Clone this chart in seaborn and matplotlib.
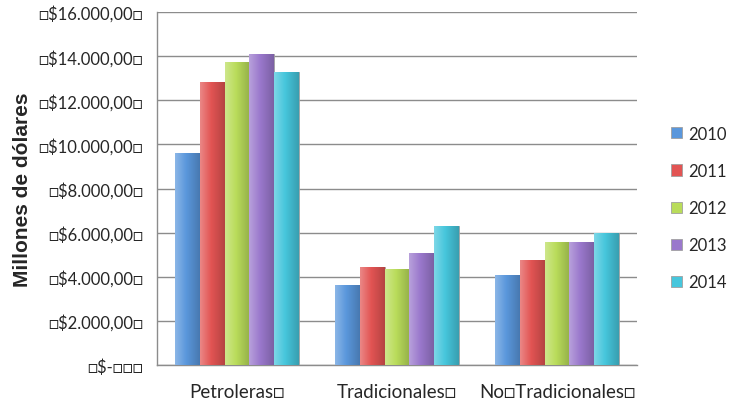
import matplotlib
matplotlib.use("Agg")
import matplotlib.pyplot as plt
import matplotlib.colors as mcolors
import numpy as np
import seaborn as sns
import pandas as pd

# values (millones de dólares)
CATEGORIES = ['Petroleras\u25a1', 'Tradicionales\u25a1', 'No\u25a1Tradicionales\u25a1']
YEARS = ['2010', '2011', '2012', '2013', '2014']
PETROLERAS = [9600, 12850, 13730, 14100, 13270]
TRADICIONALES = [3650, 4470, 4350, 5100, 6290]
NO_TRADICIONALES = [4090, 4770, 5560, 5560, 6010]
YTICKS = [0, 2000, 4000, 6000, 8000, 10000, 12000, 14000, 16000]
YTICK_LABELS = ['\u25a1$-\u25a1\u25a1\u25a1', '\u25a1$2.000,00\u25a1', '\u25a1$4.000,00\u25a1',
                '\u25a1$6.000,00\u25a1', '\u25a1$8.000,00\u25a1', '\u25a1$10.000,00\u25a1',
                '\u25a1$12.000,00\u25a1', '\u25a1$14.000,00\u25a1', '\u25a1$16.000,00\u25a1']
COLORS = ['#5a97dc', '#e25453', '#b9dc5a', '#9a78cc', '#46c6dc']

rows = []
for cat, vals in zip(CATEGORIES, [PETROLERAS, TRADICIONALES, NO_TRADICIONALES]):
    for year, v in zip(YEARS, vals):
        rows.append((cat, year, v))
df = pd.DataFrame(rows, columns=['cat', 'year', 'value'])

sns.set_style("white")
plt.rcParams['font.family'] = ['Lato', 'DejaVu Sans']

fig = plt.figure(figsize=(7.3, 4.1), dpi=100)
ax = fig.add_axes([0.215, 0.107, 0.6575, 0.861])

sns.barplot(data=df, x='cat', y='value', hue='year', palette=COLORS,
            width=0.775, saturation=1, edgecolor='#a0a0a0', linewidth=0.6, ax=ax, zorder=3)

# glossy look: horizontal gradient clipped to each bar
for patch in ax.patches:
    base = np.array(mcolors.to_rgb(patch.get_facecolor()))
    t = np.linspace(0, 1, 64)
    light = base + (1 - base) * 0.3
    dark = base * 0.8
    shade = np.where(t[:, None] < 0.45,
                     light + (base - light) * (t[:, None] / 0.45),
                     base + (dark - base) * ((t[:, None] - 0.45) / 0.55))
    img = shade[None, :, :]
    x0, y0 = patch.get_x(), patch.get_y()
    w, h = patch.get_width(), patch.get_height()
    im = ax.imshow(img, extent=[x0, x0 + w, y0, y0 + h], aspect='auto', zorder=3.5,
                   interpolation='bilinear')
    im.set_clip_path(patch)

ax.set_ylim(0, 16000)
ax.set_xlim(-0.5, 2.5)
ax.set_yticks(YTICKS)
ax.set_yticklabels(YTICK_LABELS, fontsize=12)
ax.tick_params(axis='x', labelsize=13.5, length=0, pad=13)
ax.tick_params(axis='y', length=0, pad=10)
ax.yaxis.grid(True, color='#8c8c8c', linewidth=1.0, zorder=0)
ax.set_axisbelow(True)
for side in ['top', 'right']:
    ax.spines[side].set_visible(False)
for side in ['left', 'bottom']:
    ax.spines[side].set_color('#8c8c8c')
    ax.spines[side].set_linewidth(1.0)
ax.set_xlabel('')
ax.set_ylabel('Millones de dólares', fontsize=15, fontweight='bold',
              family='Liberation Sans')
ax.yaxis.set_label_coords(-0.26, 0.5)

ax.legend(title=None, loc='center left', bbox_to_anchor=(1.04, 0.445), frameon=False,
          fontsize=12, handlelength=0.65, handleheight=0.65, labelspacing=1.27,
          handletextpad=0.35)

fig.savefig('out.png', dpi=100)
